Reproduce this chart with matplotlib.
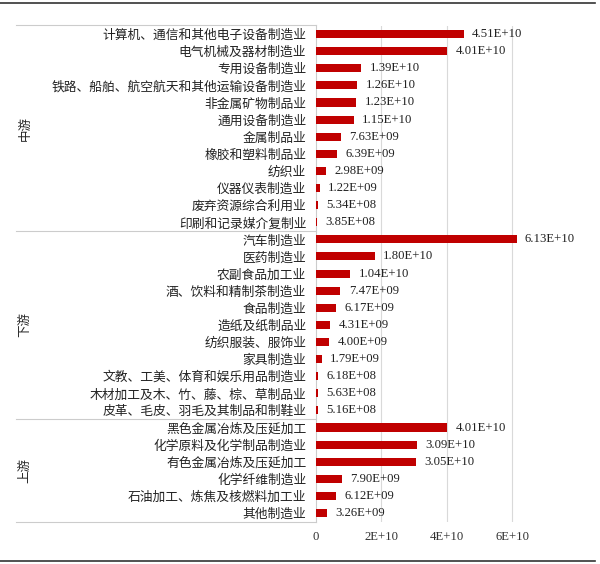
import matplotlib
matplotlib.use("Agg")
import matplotlib.pyplot as plt
import matplotlib.transforms as mtransforms
from matplotlib.lines import Line2D

groups = ["中游", "下游", "上游"]
mid_names = ["计算机、通信和其他电子设备制造业", "电气机械及器材制造业", "专用设备制造业",
             "铁路、船舶、航空航天和其他运输设备制造业", "非金属矿物制品业", "通用设备制造业",
             "金属制品业", "橡胶和塑料制品业", "纺织业", "仪器仪表制造业",
             "废弃资源综合利用业", "印刷和记录媒介复制业"]
mid_vals = [4.51e10, 4.01e10, 1.39e10, 1.26e10, 1.23e10, 1.15e10,
            7.63e9, 6.39e9, 2.98e9, 1.22e9, 5.34e8, 3.85e8]
down_names = ["汽车制造业", "医药制造业", "农副食品加工业", "酒、饮料和精制茶制造业",
              "食品制造业", "造纸及纸制品业", "纺织服装、服饰业", "家具制造业",
              "文教、工美、体育和娱乐用品制造业", "木材加工及木、竹、藤、棕、草制品业",
              "皮革、毛皮、羽毛及其制品和制鞋业"]
down_vals = [6.13e10, 1.80e10, 1.04e10, 7.47e9, 6.17e9, 4.31e9, 4.00e9,
             1.79e9, 6.18e8, 5.63e8, 5.16e8]
up_names = ["黑色金属冶炼及压延加工", "化学原料及化学制品制造业", "有色金属冶炼及压延加工",
            "化学纤维制造业", "石油加工、炼焦及核燃料加工业", "其他制造业"]
up_vals = [4.01e10, 3.09e10, 3.05e10, 7.90e9, 6.12e9, 3.26e9]
value_labels_mid = ["4.51E+10", "4.01E+10", "1.39E+10", "1.26E+10", "1.23E+10", "1.15E+10",
                    "7.63E+09", "6.39E+09", "2.98E+09", "1.22E+09", "5.34E+08", "3.85E+08"]
value_labels_down = ["6.13E+10", "1.80E+10", "1.04E+10", "7.47E+09", "6.17E+09", "4.31E+09",
                     "4.00E+09", "1.79E+09", "6.18E+08", "5.63E+08", "5.16E+08"]
value_labels_up = ["4.01E+10", "3.09E+10", "3.05E+10", "7.90E+09", "6.12E+09", "3.26E+09"]
xticks = [0, 2e10, 4e10, 6e10]
xtick_labels = ["0", "2E+10", "4E+10", "6E+10"]

names = mid_names + down_names + up_names
vals = mid_vals + down_vals + up_vals
vlabels = value_labels_mid + value_labels_down + value_labels_up
sizes = [len(mid_names), len(down_names), len(up_names)]

cjk = ["Noto Sans CJK SC", "DejaVu Sans"]
serif = ["Liberation Serif", "DejaVu Serif"]

fig = plt.figure(figsize=(6, 5.64), dpi=100)
ax = fig.add_axes([316/600, 1 - 521.6/564, 229/600, (521.6 - 25.5)/564])

y = list(range(len(names)))
ax.barh(y, vals, height=0.47, color="#C00000", zorder=3)
ax.set_ylim(len(names) - 0.5, -0.5)
ax.set_xlim(0, 7e10)
ax.set_yticks(y)
ax.set_yticklabels(names, fontfamily=cjk, fontsize=9.2, color="#222222")
ax.set_xticks(xticks)
ax.set_xticklabels(xtick_labels, fontfamily=serif, fontsize=9.2, color="#333333")
ax.tick_params(axis="both", length=0)
ax.tick_params(axis="y", pad=7)
ax.tick_params(axis="x", pad=7)
for xv in xticks[1:]:
    ax.axvline(xv, color="#d9d9d9", lw=0.8, zorder=1)
for s in ["top", "right", "bottom"]:
    ax.spines[s].set_visible(False)
ax.spines["left"].set_color("#cccccc")
ax.spines["left"].set_linewidth(0.8)

for yi, v, lab in zip(y, vals, vlabels):
    ax.annotate(lab, (v, yi), xytext=(6, 0), textcoords="offset points",
                va="center", ha="left", fontfamily=serif, fontsize=9.2, color="#222222")

trans = mtransforms.blended_transform_factory(fig.transFigure, ax.transData)
bounds = [-0.5]
acc = -0.5
for s in sizes:
    acc += s
    bounds.append(acc)
for b in bounds:
    ax.add_line(Line2D([16/600, 316/600], [b, b], transform=trans, color="#cccccc",
                       lw=0.8, clip_on=False))
start = 0
for g, s in zip(groups, sizes):
    ax.text(25/600, start + (s - 1) / 2, g, transform=trans, rotation=90,
            ha="center", va="center", fontfamily=cjk, fontsize=9, color="#222222")
    start += s

fig.add_artist(Line2D([0, 595/600], [1 - 3/564, 1 - 3/564], transform=fig.transFigure,
                      color="#333333", lw=1.2))
fig.add_artist(Line2D([0, 595/600], [1 - 561/564, 1 - 561/564], transform=fig.transFigure,
                      color="#333333", lw=1.2))

fig.savefig("out.png", dpi=100)
